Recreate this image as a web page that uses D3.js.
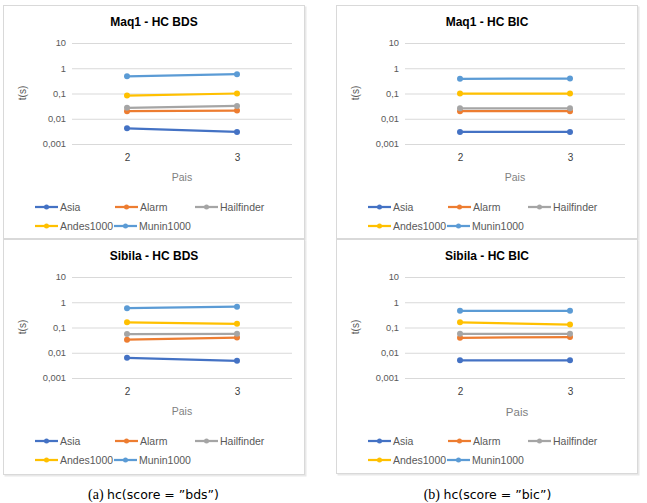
<!DOCTYPE html>
<html><head><meta charset="utf-8">
<script src="https://cdn.jsdelivr.net/npm/d3@7"></script>
<style>body{margin:0;background:#fff}</style>
</head><body>
<script>
const categories = ["2", "3"];
const seriesNames = ["Asia", "Alarm", "Hailfinder", "Andes1000", "Munin1000"];
const seriesColors = ["#4472C4", "#ED7D31", "#A5A5A5", "#FFC000", "#5B9BD5"];
const tickValues = [0.001, 0.01, 0.1, 1, 10];
const tickLabels = ["0,001", "0,01", "0,1", "1", "10"];
// values per series [Asia, Alarm, Hailfinder, Andes1000, Munin1000], each [Pais=2, Pais=3]
const maq1Bds = [[0.0042, 0.0030], [0.020, 0.021], [0.027, 0.032], [0.083, 0.100], [0.48, 0.58]];
const maq1Bic = [[0.0030, 0.0030], [0.020, 0.020], [0.026, 0.026], [0.100, 0.100], [0.38, 0.39]];
const sibilaBds = [[0.0063, 0.0048], [0.033, 0.040], [0.055, 0.056], [0.160, 0.140], [0.58, 0.67]];
const sibilaBic = [[0.0050, 0.0050], [0.039, 0.042], [0.056, 0.056], [0.160, 0.130], [0.46, 0.46]];
const panelTitles = ["Maq1 - HC BDS", "Maq1 - HC BIC", "Sibila - HC BDS", "Sibila - HC BIC"];
const captions = [["(a) ", "hc(score = ”bds”)"], ["(b) ", "hc(score = ”bic”)"]];

const W = 647, H = 503;
const svg = d3.select("body").append("svg").attr("width", W).attr("height", H)
  .style("font-family", "'Liberation Sans', Arial, sans-serif");

const panels = [
  {x: 3, y: 5, h: 234, data: maq1Bds, title: panelTitles[0]},
  {x: 336, y: 5, h: 234, data: maq1Bic, title: panelTitles[1]},
  {x: 3, y: 239, h: 236, data: sibilaBds, title: panelTitles[2]},
  {x: 336, y: 239, h: 235, data: sibilaBic, title: panelTitles[3], big: true}
];
const PW = 302;

panels.forEach(p => {
  const g = svg.append("g").attr("transform", `translate(${p.x},${p.y})`);
  g.append("rect").attr("x", 1.5).attr("y", 1.5).attr("width", PW).attr("height", p.h)
    .attr("fill", "#e8e8e8");
  g.append("rect").attr("x", 0.5).attr("y", 0.5).attr("width", PW - 1).attr("height", p.h - 1)
    .attr("fill", "#fff").attr("stroke", "#d9d9d9");

  g.append("text").attr("x", 151).attr("y", 20.5).attr("text-anchor", "middle")
    .attr("font-size", 12).attr("font-weight", "bold").attr("fill", "#000").text(p.title);

  const x = d3.scalePoint().domain(categories).range([69, 289]).padding(0.5);
  const y = d3.scaleLog().domain([0.001, 10]).range([139, 38]);

  const yAxis = g.append("g").attr("transform", "translate(69,0)")
    .call(d3.axisLeft(y).tickValues(tickValues).tickFormat((d, i) => tickLabels[i]).tickSize(-220).tickPadding(6));
  yAxis.select(".domain").remove();
  yAxis.selectAll("line").attr("stroke", "#d9d9d9");
  yAxis.selectAll("text").attr("font-size", 9.3).attr("fill", "#595959")
    .attr("font-family", "'Liberation Sans', Arial, sans-serif");

  const xAxis = g.append("g").attr("transform", "translate(0,139)")
    .call(d3.axisBottom(x).tickSize(0).tickPadding(10));
  xAxis.select(".domain").remove();
  xAxis.selectAll("text").attr("font-size", 10).attr("fill", "#404040")
    .attr("font-family", "'Liberation Sans', Arial, sans-serif");

  g.append("text").attr("x", p.big ? 181 : 179).attr("y", p.big ? 177 : 176).attr("text-anchor", "middle")
    .attr("font-size", p.big ? 11.5 : 10.5).attr("fill", "#7f7f7f").text("Pais");
  g.append("text").attr("transform", "translate(23,88) rotate(-90)").attr("text-anchor", "middle")
    .attr("font-size", 10).attr("fill", "#595959").text("t(s)");

  const line = d3.line().x((d, i) => x(categories[i])).y(d => y(d));
  p.data.forEach((vals, s) => {
    g.append("path").datum(vals).attr("d", line).attr("fill", "none")
      .attr("stroke", seriesColors[s]).attr("stroke-width", 2.25);
    g.selectAll(null).data(vals).enter().append("circle")
      .attr("cx", (d, i) => x(categories[i])).attr("cy", d => y(d)).attr("r", 3)
      .attr("fill", seriesColors[s]);
  });

  const legPos = [[32, 202], [112, 202], [192, 202], [32, 221], [111, 221]];
  seriesNames.forEach((name, s) => {
    const [lx, ly] = legPos[s];
    const lg = g.append("g").attr("transform", `translate(${lx},${ly})`);
    lg.append("line").attr("x1", 0).attr("x2", 23).attr("stroke", seriesColors[s]).attr("stroke-width", 2.25);
    lg.append("circle").attr("cx", 11.5).attr("r", 2.5).attr("fill", seriesColors[s]);
    lg.append("text").attr("x", 25).attr("y", 3.8).attr("font-size", 10.5).attr("fill", "#595959").text(name);
  });
});

[[153.5, 0], [487.5, 1]].forEach(([cx, i]) => {
  const t = svg.append("text").attr("x", cx).attr("y", 499).attr("text-anchor", "middle")
    .attr("font-size", 14).attr("fill", "#000");
  t.append("tspan").attr("font-family", "'Liberation Serif', 'Times New Roman', serif").text(captions[i][0]);
  t.append("tspan").attr("font-family", "'DejaVu Sans', sans-serif").attr("font-size", 12.5).text(captions[i][1]);
});
</script>
</body></html>
